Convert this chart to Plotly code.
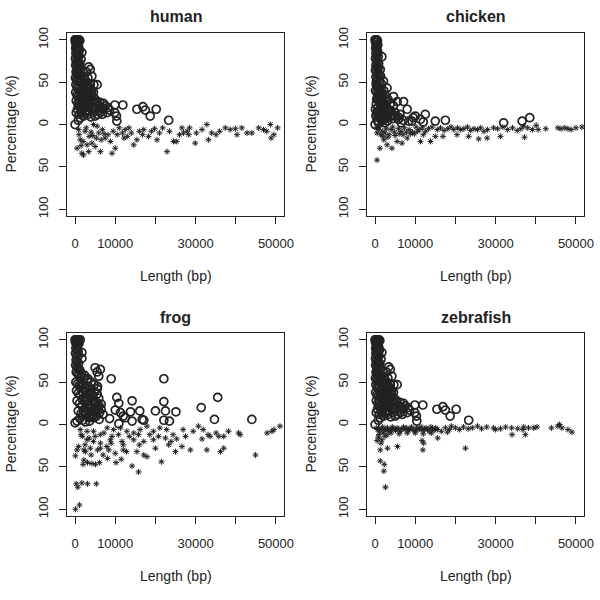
import plotly.graph_objects as go

# ---------------- data ----------------
panel_names = ["human", "chicken", "frog", "zebrafish"]

x_tick_vals = [0, 10000, 20000, 30000, 40000, 50000]
x_tick_text = ["0", "10000", "", "30000", "", "50000"]
y_tick_vals = [-100, -50, 0, 50, 100]
y_tick_text = ["100", "50", "0", "50", "100"]

human_circle_x = [0,200,400,600,800,1000,1200,100,300,500,700,900,150,350,600,850,1100,1700,200,450,700,1000,1500,100,300,550,800,1200,150,400,650,900,1300,3400,3800,2800,250,500,750,1000,1500,4200,3200,100,350,600,900,1200,1800,2400,3800,5500,4700,200,500,800,1100,1600,2000,2700,3300,4100,150,450,750,1300,1900,2500,3000,3600,4400,5000,300,700,1100,1700,2300,2900,3500,4300,5200,6000,7100,7000,9900,11900,8600,9900,10300,10400,15400,16900,17500,18700,20200,23300,0,300,1300,6300,8000,5000,600,1000,1600,2100,2600,3200,3900,4500,800,2000,2800,5800,6800,
                  1500,2200,2600,3000,3400,3800,4200,4600,1800,2400,3000,3600,4200,4800,5400,1200,2000,2600,3100,3700,4300,900,1400,2100,2700,3300,3900,5600,6200,6600,7500,8200]
human_circle_y = [100,100,100,100,100,100,99,97,95,93,96,92,90,88,89,86,88,85,84,82,80,81,77,78,75,73,74,72,70,68,66,69,65,68,65,62,62,60,58,61,58,57,55,55,53,51,54,50,52,49,47,47,47,47,44,42,45,41,44,40,38,36,38,35,33,35,33,31,33,29,28,30,28,25,27,24,26,22,21,20,19,22,25,18,23,23,17,14,10,4,18,21,17,10,18,5,0,14,8,14,14,10,18,12,15,10,13,12,9,14,5,18,17,16,12,
                  55,57,52,48,44,42,40,38,30,28,26,35,32,24,27,40,36,20,15,25,18,22,20,33,37,28,30,12,26,20,22,20]
human_star_x = [900,1300,500,1700,2100,1000,3000,3400,4200,5000,6300,4600,5500,5900,2500,3500,2000,1500,2800,4000,6800,7500,8800,9200,10000,10500,9500,8200,7200,6500,5300,4400,11000,11800,12500,13400,13000,14600,15400,14000,16000,17100,18300,19000,19800,20400,21000,21800,22900,24500,25300,23500,26600,27000,27900,28500,26000,28300,29900,31600,32800,33200,34000,35100,37400,38600,39900,40300,41500,42800,44000,45700,46900,47700,48600,48800,49500,50400,30200,36000,16800,12200]
human_star_y = [-6,-18,-28,-34,-36,-12,-24,-32,-22,-26,-32,0,-2,-10,-8,-14,-20,-25,-4,-9,-6,-16,-20,-34,-28,-12,-8,-12,-11,-18,-16,-13,-4,-10,-6,-4,-14,-24,-18,-10,-8,-6,-14,-8,-5,-18,-10,-4,-32,-20,-20,-8,-4,-10,-8,-4,-12,-12,-22,-6,0,-18,-10,-12,-4,-6,-5,-12,-4,-10,-10,-4,-6,-8,0,-16,-12,-4,-10,-8,-12,-16]

chicken_circle_x = [0,200,400,600,100,300,500,700,150,400,650,200,1700,450,800,100,350,600,900,200,500,800,1300,100,400,700,1000,1400,200,550,900,1200,2100,1600,300,700,1000,3000,1500,2200,100,400,800,1200,1800,2500,4600,3200,5500,7100,8000,3900,4600,2700,600,1000,1500,2000,2600,3300,4000,5000,6200,300,700,1100,1600,2200,2900,3700,4500,5800,7000,8400,10000,11300,12500,9200,15000,17500,32000,36600,38500,0,200,500,900,1300,1800,2400,3100,6500,9500,12000,100,400,800,1500,
                    300,600,900,1200,1500,1800,2100,2400,400,700,1000,1300,1600,1900,2200,500,800,1100,1400,1700,2000,2300,2600,3500,4200,5000,6000]
chicken_circle_y = [100,100,100,99,97,95,92,94,90,88,86,84,80,82,80,78,76,74,72,70,68,66,65,64,62,60,58,57,56,54,52,50,51,48,47,45,44,43,42,40,40,38,36,35,34,35,33,30,27,27,18,25,22,28,30,27,25,22,20,18,16,14,12,24,20,17,15,13,11,9,7,6,5,4,10,6,12,4,4,5,2,4,8,0,10,5,2,8,4,2,4,2,8,3,18,14,12,6,
                    50,46,42,38,33,29,26,24,30,34,30,26,22,19,17,14,9,10,12,9,7,6,9,14,12,10,8]
chicken_star_x = [500,1200,2200,3000,4200,5500,6700,8000,11300,13800,15000,16900,20400,23300,25800,27900,31200,37200,500,900,1400,1800,2500,3500,4000,4800,5800,6500,7300,8500,9300,10200,11000,11800,12600,13300,14200,15500,16300,17200,18100,18900,19600,20500,21300,22100,23000,23800,24600,25500,26300,27100,28000,29500,30500,31800,33000,34200,35400,36300,37000,38000,39200,40100,40600,42500,45500,46300,47200,48000,48800,50000,51500,2000,3200,5000,7000,9800,300,1000,2800,4400,6000,7800,8800,10600,12000]
chicken_star_y = [-42,-28,-18,-24,-28,-20,-22,-16,-20,-20,-14,-14,-12,-14,-17,-16,-14,-15,-10,-6,-12,-8,-10,-12,-6,-9,-5,-8,-4,-6,-9,-3,-6,-4,-8,-5,-3,-6,-4,-7,-5,-3,-6,-4,-6,-5,-3,-7,-5,-6,-4,-8,-6,-4,-5,-3,-6,-4,-7,-5,-2,-4,-6,-1,-6,-5,-4,-5,-4,-5,-6,-4,-3,-14,-15,-13,-12,-11,-4,-3,-5,-3,-11,-9,-11,-8,-12]

frog_circle_x = [0,200,400,600,900,1300,100,400,700,1000,200,500,800,1700,100,400,700,1700,250,550,900,150,450,750,1200,5000,6300,5900,5500,9000,22100,300,650,1000,1500,2200,3000,200,600,1000,1400,2000,2600,3300,4000,4800,5500,350,800,1300,1900,2500,3200,3800,4500,5200,5900,10400,10900,14200,22100,35500,31400,500,1100,1700,2300,2900,3600,4200,4900,5600,6100,10000,11300,13800,16100,20000,22500,25100,800,1500,2100,2700,3400,4000,4700,5300,8600,10900,14200,16700,17100,22100,23500,34700,44000,0,500,1200,1900,2600,3600,6000,6500,12000,12500,
                 1600,2400,3200,4000,4800,5600,1800,2600,3400,4200,5000,5800,2000,2800,3600,4400,5200,6000,1500,2500,3500,4500,5500,6500,7000]
frog_circle_y = [100,100,100,100,100,100,97,95,93,96,90,88,86,85,84,82,80,78,76,74,72,70,68,66,64,67,65,57,62,54,54,62,60,58,56,55,52,50,48,46,44,47,43,45,41,39,42,40,37,35,38,33,31,35,29,27,31,32,25,28,27,32,20,28,25,22,27,20,18,23,16,21,14,17,14,15,16,16,16,15,16,13,16,11,9,12,8,10,7,1,4,6,5,5,4,6,6,2,4,7,5,3,4,22,18,10,8,
                 60,58,54,50,47,45,30,28,24,20,25,17,12,14,8,10,13,6,48,40,38,33,36,24,12]
frog_star_x = [100,1100,300,700,1700,3100,5300,100,2200,2000,3100,4200,5100,6100,8100,10200,11500,14200,15800,21500,44900,900,2600,3800,6300,7900,10000,12000,12800,15400,17100,17900,20000,23300,25000,26600,28700,32800,36200,37000,1300,3000,4600,6300,8000,9600,11300,12900,14600,16200,17900,19500,21100,22800,24400,26900,29400,30700,31900,33100,35100,35800,37000,38200,40700,41100,47800,49000,49500,51000,3000,4600,6300,8800,11700,14600,17100,19500,22500,25300,27500,31600,33600,1800,2500,5000,7200,9200,10800,13500,15800,18600,20800,23900,500,4000,7000,9000,12000,16000,1500,2200,3500,5600,8400]
frog_star_y = [-100,-95,-70,-74,-69,-70,-70,-37,-42,-47,-45,-46,-47,-45,-40,-45,-41,-49,-56,-44,-36,-26,-32,-28,-28,-26,-34,-30,-32,-32,-36,-38,-28,-24,-32,-26,-30,-30,-32,-28,-6,-8,-8,-12,-4,-6,-4,-8,-10,-6,-2,-8,-4,-6,-12,-6,-8,-2,-6,-12,-10,-14,-14,-8,-10,-12,-10,-8,-6,-2,-18,-20,-22,-18,-20,-18,-20,-18,-16,-17,-14,-17,-14,-14,-24,-14,-10,-14,-12,-14,-12,-12,-14,-20,-30,-36,-36,-22,-24,-24,-12,-30,-16,-30,-30]

zebrafish_circle_x = [0,200,400,600,800,1000,1200,100,300,500,700,900,150,350,600,850,1100,1700,200,450,700,1000,1500,100,300,550,800,1200,150,400,650,900,1300,3400,3800,2800,250,500,750,1000,1500,4200,3200,100,350,600,900,1200,1800,2400,3800,5500,4700,200,500,800,1100,1600,2000,2700,3300,4100,150,450,750,1300,1900,2500,3000,3600,4400,5000,300,700,1100,1700,2300,2900,3500,4300,5200,6000,7100,7000,9900,11900,8600,9900,10300,10400,15400,16900,17500,18700,20200,23300,0,300,1300,6300,8000,5000,600,1000,1600,2100,2600,3200,3900,4500,800,2000,2800,5800,6800,
                      1500,2200,2600,3000,3400,3800,4200,4600,1800,2400,3000,3600,4200,4800,5400,1200,2000,2600,3100,3700,4300,900,1400,2100,2700,3300,3900,5600,6200,6600,7500,8200]
zebrafish_circle_y = [100,100,100,100,100,100,99,97,95,93,96,92,90,88,89,86,88,85,84,82,80,81,77,78,75,73,74,72,70,68,66,69,65,68,65,62,62,60,58,61,58,57,55,55,53,51,54,50,52,49,47,47,47,47,44,42,45,41,44,40,38,36,38,35,33,35,33,31,33,29,28,30,28,25,27,24,26,22,21,20,19,22,25,18,23,23,17,14,10,4,18,21,17,10,18,5,0,14,8,14,14,10,18,12,15,10,13,12,9,14,5,18,17,16,12,
                      55,57,52,48,44,42,40,38,30,28,26,35,32,24,27,40,36,20,15,25,18,22,20,33,37,28,30,12,26,20,22,20]
zebrafish_star_x = [2600,2200,1300,2300,1300,500,1700,3100,5600,11700,12100,11900,22500,15600,34100,37400,49000,45900,300,700,1100,1500,1900,2300,2700,3100,3500,3900,4300,4700,5100,5500,5900,6300,6700,7100,7500,7900,8300,8700,9100,9500,9900,10300,10700,11100,11500,11900,12300,12700,13100,13500,13900,14300,14700,15100,15500,1000,2000,3000,800,1500,2500,4000,6000,8000,10000,12000,14000,16500,17500,18500,19000,20000,21000,22000,23200,24200,25500,26500,27800,29500,31200,32500,34000,35500,37000,38200,39500,40300,43900,45500,46500,48000,30000,36800,18000]
zebrafish_star_y = [-74,-55,-43,-47,-30,-19,-18,-28,-26,-19,-22,-30,-28,-16,-12,-12,-9,0,-4,-6,-8,-5,-3,-7,-5,-4,-8,-6,-3,-5,-7,-4,-6,-8,-5,-3,-6,-4,-7,-5,-3,-6,-8,-4,-6,-5,-3,-7,-5,-4,-6,-8,-3,-5,-7,-4,-6,-12,-10,-12,-15,-22,-14,-10,-11,-10,-10,-11,-10,-8,-4,-6,-2,-4,-6,-3,-5,-4,-2,-5,-3,-4,-5,-3,-4,-5,-3,-4,-4,-3,-4,-2,-4,-6,-6,-6,-9]

panels = [
    (human_circle_x, human_circle_y, human_star_x, human_star_y),
    (chicken_circle_x, chicken_circle_y, chicken_star_x, chicken_star_y),
    (frog_circle_x, frog_circle_y, frog_star_x, frog_star_y),
    (zebrafish_circle_x, zebrafish_circle_y, zebrafish_star_x, zebrafish_star_y),
]

# ---------------- layout geometry (pixels) ----------------
W = H = 600
FONT = "Liberation Sans, Arial, Helvetica, sans-serif"
INK = "#222222"
boxes = [  # left, top, right, bottom of plot areas
    (67, 33, 284, 216),
    (367, 33, 584, 216),
    (67, 333, 284, 516),
    (367, 333, 584, 516),
]

fig = go.Figure()
layout = dict(
    width=W, height=H, margin=dict(l=0, r=0, t=0, b=0, pad=0, autoexpand=False),
    paper_bgcolor="white", plot_bgcolor="white", showlegend=False,
    font=dict(family=FONT, color=INK, size=13),
)
annotations = []

for i, ((cx, cy, sx, sy), name, (l, t, r, b)) in enumerate(zip(panels, panel_names, boxes)):
    k = "" if i == 0 else str(i + 1)
    xa, ya = "x" + k, "y" + k
    fig.add_trace(go.Scatter(
        x=sx, y=sy, mode="markers", xaxis=xa, yaxis=ya,
        marker=dict(symbol="asterisk-open", size=5, color=INK,
                    line=dict(color=INK, width=1)),
    ))
    fig.add_trace(go.Scatter(
        x=cx, y=cy, mode="markers", xaxis=xa, yaxis=ya,
        marker=dict(symbol="circle-open", size=8, color=INK,
                    line=dict(color=INK, width=1.7)),
    ))
    common = dict(showgrid=False, zeroline=False, showline=True, mirror=True,
                  linecolor=INK, linewidth=1.2, ticks="outside", ticklen=7,
                  tickwidth=1, tickcolor=INK, automargin=False,
                  tickfont=dict(size=13, color=INK, family=FONT))
    layout["xaxis" + k] = dict(
        domain=[l / W, r / W], anchor=ya, range=[-2000, 52000],
        tickmode="array", tickvals=x_tick_vals, ticktext=x_tick_text,
        ticklabelstandoff=8, **common)
    layout["yaxis" + k] = dict(
        domain=[1 - b / H, 1 - t / H], anchor=xa, range=[-108, 108],
        tickmode="array", tickvals=y_tick_vals, ticktext=y_tick_text,
        tickangle=-90, ticklabelstandoff=6, **common)
    cxp = (l + r) / 2 / W
    annotations.append(dict(text="<b>" + name + "</b>", x=cxp, y=1 - (t - 16) / H,
                             xref="paper", yref="paper", showarrow=False,
                             xanchor="center", yanchor="middle",
                             font=dict(size=16, color=INK, family=FONT)))
    annotations.append(dict(text="Length (bp)", x=cxp, y=1 - (b + 60) / H,
                             xref="paper", yref="paper", showarrow=False,
                             xanchor="center", yanchor="middle",
                             font=dict(size=14, color=INK, family=FONT)))
    annotations.append(dict(text="Percentage (%)", x=(l - 57) / W, y=1 - (t + b) / 2 / H,
                             xref="paper", yref="paper", showarrow=False, textangle=-90,
                             xanchor="center", yanchor="middle",
                             font=dict(size=14, color=INK, family=FONT)))

layout["annotations"] = annotations
fig.update_layout(**layout)
fig.write_html(
    "out.html",
    config={"displayModeBar": False, "staticPlot": True},
    post_script="document.body.style.margin='0';document.body.style.padding='0';"
                "document.body.style.overflow='hidden';",
)
